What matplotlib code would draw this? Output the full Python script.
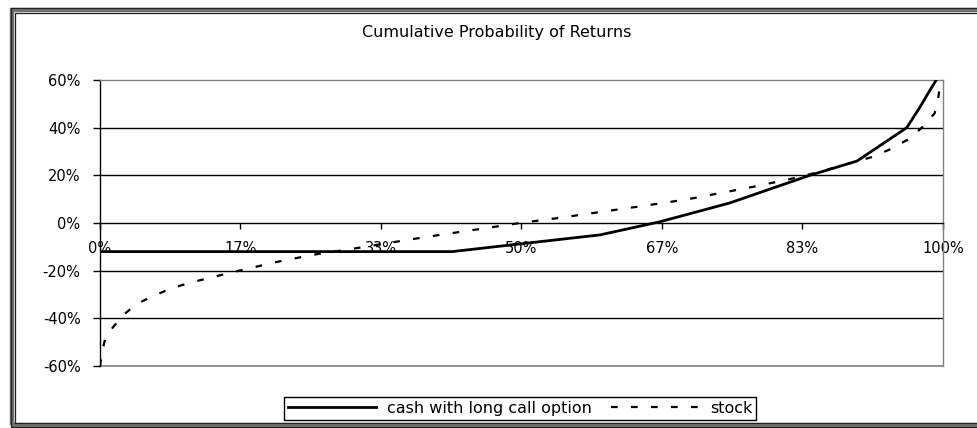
import matplotlib
matplotlib.use("Agg")
from matplotlib import pyplot as plt
from matplotlib.patches import Rectangle
from matplotlib.ticker import PercentFormatter

plt.rcParams["axes.unicode_minus"] = False

# cumulative probability (fraction) vs return (%)
prob_cash = [0, 0.418, 0.475, 0.593, 0.664, 0.747, 0.842, 0.898, 0.957, 0.973, 0.985, 0.992]
ret_cash = [-12, -12, -9.7, -5, 0.5, 8.4, 20, 26, 40, 48.8, 56, 60]

prob_stock = [0, 0.002, 0.006, 0.015, 0.028, 0.043, 0.063, 0.085, 0.107, 0.134, 0.156,
              0.178, 0.202, 0.227, 0.257, 0.30, 0.37, 0.403, 0.451, 0.498, 0.546, 0.593,
              0.649, 0.696, 0.741, 0.775, 0.822, 0.854, 0.917, 0.937, 0.961, 0.976,
              0.990, 0.994, 0.996, 0.998]
ret_stock = [-60, -55, -48.7, -43.9, -38.5, -34.1, -30.6, -27.4, -25, -22.7, -20.7,
             -19, -16.9, -15.1, -13.1, -10.8, -6.8, -5, -2.5, 0, 2.2, 4.6,
             7.4, 9.9, 12.9, 15.2, 18.7, 21.5, 27.8, 30.9, 35.5, 40.4,
             46, 51.6, 56.6, 60]

x_ticks = [0, 1/6, 2/6, 3/6, 4/6, 5/6, 1]
x_labels = ["0%", "17%", "33%", "50%", "67%", "83%", "100%"]
y_ticks = [-60, -40, -20, 0, 20, 40, 60]

W, H = 978, 428
fig = plt.figure(figsize=(W / 100, H / 100), dpi=100)
ax = fig.add_axes([100 / W, 1 - 366 / H, 843 / W, 286 / H])

# grid lines
for v in [-40, -20, 20, 40]:
    ax.axhline(v, color="black", lw=1.0, zorder=1)
ax.axhline(-60, color="#808080", lw=1.2, zorder=1, clip_on=False)

ax.plot(prob_cash, ret_cash, color="black", lw=2.0, label="cash with long call option",
        zorder=3)
ax.plot(prob_stock, ret_stock, color="black", lw=1.6, dashes=(3, 6),
        label="stock", zorder=3)

ax.set_xlim(0, 1)
ax.set_ylim(-60, 60)

ax.spines["bottom"].set_position(("data", 0))
ax.spines["bottom"].set_color("black")
ax.spines["left"].set_color("black")
ax.spines["top"].set_color("#808080")
ax.spines["right"].set_color("#808080")
for s in ax.spines.values():
    s.set_linewidth(1.0)

ax.set_xticks(x_ticks)
ax.set_xticklabels(x_labels)
ax.set_yticks(y_ticks)
ax.yaxis.set_major_formatter(PercentFormatter(decimals=0))
ax.tick_params(axis="x", direction="out", length=4, width=1, pad=9, labelsize=10.5)
ax.tick_params(axis="y", direction="out", length=5, width=1, pad=9, labelsize=10.5)

fig.text(497 / W, 1 - 33 / H, "Cumulative Probability of Returns", ha="center",
         va="center", fontsize=11.5)

leg = ax.legend(loc="center", bbox_to_anchor=(520 / W, 1 - 408.5 / H),
                bbox_transform=fig.transFigure, ncol=2, fontsize=11.5,
                frameon=True, fancybox=False, framealpha=1, edgecolor="black",
                handlelength=5.5, handletextpad=0.7, columnspacing=1.2,
                borderpad=0.25, borderaxespad=0)
leg.get_frame().set_linewidth(1.0)

# outer chart border
fig.patches.append(Rectangle((12.5 / W, 1 - 425 / H), 1.2, (425 - 10) / H,
                             transform=fig.transFigure, fill=False,
                             edgecolor="#707070", lw=3.2))
fig.patches.append(Rectangle((10.5 / W, 1 - 427 / H), 1.2, (427 - 7.5) / H,
                             transform=fig.transFigure, fill=False,
                             edgecolor="#222222", lw=0.9))
fig.patches.append(Rectangle((15.5 / W, 1 - 422.5 / H), 1.2, (422.5 - 13) / H,
                             transform=fig.transFigure, fill=False,
                             edgecolor="#222222", lw=0.9))

fig.savefig("out.png", dpi=100)
